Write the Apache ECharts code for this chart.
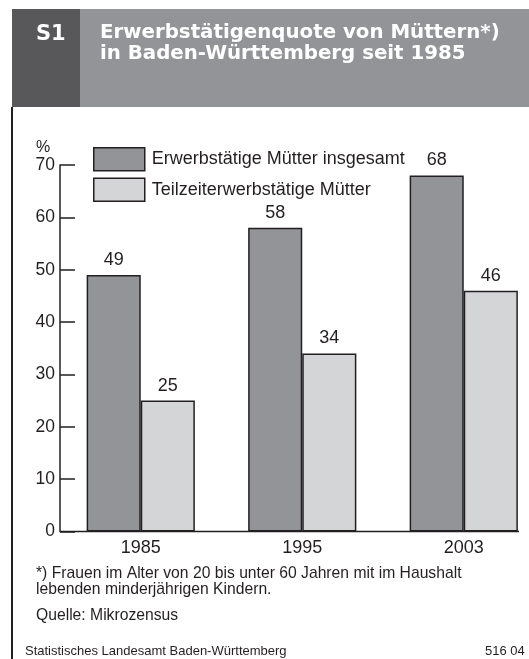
<!DOCTYPE html>
<html>
<head>
<meta charset="utf-8">
<script src="https://cdn.jsdelivr.net/npm/echarts@6/dist/echarts.min.js"></script>
<style>
    html, body { margin: 0; padding: 0; background: #fff; }
    #main { width: 529px; height: 659px; }
</style>
</head>
<body>
<div id="main"></div>
<script>
    // Daten
    var years = ['1985', '1995', '2003'];
    var insgesamt = [49, 58, 68];
    var teilzeit = [25, 34, 46];
    var seriesNames = ['Erwerbstätige Mütter insgesamt', 'Teilzeiterwerbstätige Mütter'];

    var ink = '#231f20';
    var font = 'Liberation Sans, Arial, sans-serif';
    var headFont = 'DejaVu Sans, Liberation Sans, sans-serif';

    var chart = echarts.init(document.getElementById('main'));
    var option = {
        backgroundColor: '#fff',
        animation: false,
        textStyle: {fontFamily: font, color: ink},
        grid: {
            left: 60,
            width: 484.5,
            top: 165,
            bottom: 127.5,
            outerBoundsMode: 'none'
        },
        legend: {
            orient: 'vertical',
            left: 88,
            top: 142,
            icon: 'rect',
            itemWidth: 51,
            itemHeight: 23,
            itemGap: 6,
            itemStyle: {borderColor: ink, borderWidth: 1.5},
            textStyle: {fontSize: 18, color: ink, padding: [0, 0, 0, 2]},
            data: seriesNames
        },
        xAxis: {
            type: 'category',
            data: years,
            axisLine: {show: false},
            axisTick: {show: false},
            axisLabel: {fontSize: 18, color: ink, margin: 8}
        },
        yAxis: {
            type: 'value',
            min: 0,
            max: 70,
            interval: 10,
            axisLine: {show: true, lineStyle: {color: ink, width: 1.5}},
            axisTick: {show: true, inside: true, length: 15, lineStyle: {color: ink, width: 1.5}},
            splitLine: {show: false},
            axisLabel: {fontSize: 17.5, color: ink, margin: 5}
        },
        series: [
            {
                name: seriesNames[0],
                type: 'bar',
                barGap: 0,
                barCategoryGap: '33%',
                itemStyle: {color: '#939498', borderColor: ink, borderWidth: 1.5},
                label: {show: true, position: 'top', distance: 6, fontSize: 18, color: ink},
                data: insgesamt
            },
            {
                name: seriesNames[1],
                type: 'bar',
                barGap: 0,
                barCategoryGap: '33%',
                itemStyle: {color: '#d4d5d7', borderColor: ink, borderWidth: 1.5},
                label: {show: true, position: 'top', distance: 6, fontSize: 18, color: ink},
                data: teilzeit
            }
        ],
        graphic: [
            // Kopfzeile
            {type: 'rect', shape: {x: 12, y: 9, width: 68, height: 98}, style: {fill: '#58585a'}},
            {type: 'rect', shape: {x: 80, y: 9, width: 449, height: 98}, style: {fill: '#939498'}},
            {type: 'text', left: 36, top: 24, style: {text: 'S1', fill: '#fff', font: 'bold 21px ' + headFont}},
            {type: 'text', left: 100, top: 22, style: {text: 'Erwerbstätigenquote von Müttern*)\nin Baden-Württemberg seit 1985', fill: '#fff', font: 'bold 19.8px ' + headFont, lineHeight: 21}},
            // Rahmen links
            {type: 'rect', shape: {x: 11, y: 107, width: 2, height: 552}, style: {fill: ink}},
            // Achse unten
            {type: 'line', shape: {x1: 60, y1: 531.5, x2: 519, y2: 531.5}, style: {stroke: ink, lineWidth: 1.5}},
            {type: 'text', left: 36, top: 140, style: {text: '%', fill: ink, font: '16px ' + font}},
            // Fußnoten
            {type: 'text', left: 36, top: 566, style: {text: '*) Frauen im Alter von 20 bis unter 60 Jahren mit im Haushalt\nlebenden minderjährigen Kindern.', fill: ink, font: '15.7px ' + font, lineHeight: 16}},
            {type: 'text', left: 36, top: 608, style: {text: 'Quelle: Mikrozensus', fill: ink, font: '15.7px ' + font}},
            {type: 'text', left: 25, top: 645, style: {text: 'Statistisches Landesamt Baden-Württemberg', fill: ink, font: '13px ' + font}},
            {type: 'text', left: 485, top: 645, style: {text: '516 04', fill: ink, font: '13px ' + font}}
        ]
    };
    chart.setOption(option);
</script>
</body>
</html>
